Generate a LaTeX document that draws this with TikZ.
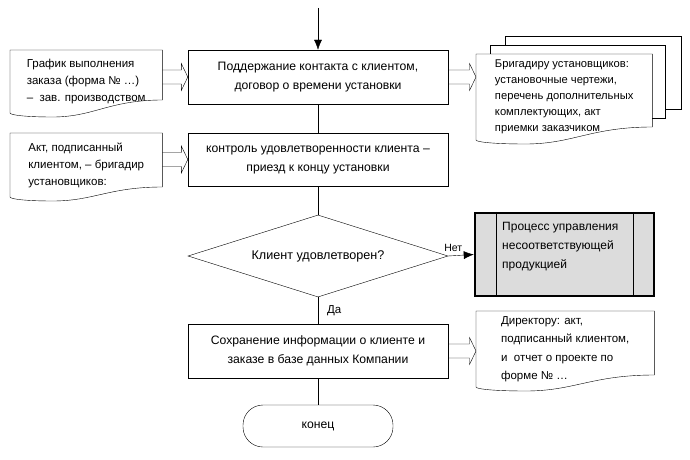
\documentclass[tikz,border=0pt]{standalone}
\usepackage{fontspec}
\setmainfont{Liberation Sans}
\usetikzlibrary{positioning, arrows.meta, calc, shapes.geometric}
\tikzset{>=latex}
\definecolor{procgray}{RGB}{220,220,220}

% document outline: node, right drop, left drop
\newcommand\docoutline[3]{%
  \draw (#1.north west) -- (#1.north east) -- ($(#1.north east)+(0,#2)$)
    .. controls ($(#1.north west)!0.65!(#1.north east)+(0,#2)$)
       and ($(#1.north west)!0.55!(#1.north east)+(0,#3+4)$)
    .. ($(#1.north west)!0.28!(#1.north east)+(0,#3+4)$)
    .. controls ($(#1.north west)!0.1!(#1.north east)+(0,#3+4)$)
       and ($(#1.north west)+(0,#3+2)$)
    .. ($(#1.north west)+(0,#3)$) -- cycle;}
% hollow arrow between two points on one level
\newcommand\fatarrow[2]{%
  \draw ($#1+(0,-7)$) -- ($#2+(-6.5,-7)$) -- ($#2+(-6.5,-13.5)$) -- #2
    -- ($#2+(-6.5,13.5)$) -- ($#2+(-6.5,7)$) -- ($#1+(0,7)$);}

\begin{document}
\begin{tikzpicture}[x=1pt,y=-1pt,
  every node/.style={font=\fontsize{11.5}{17}\selectfont},
  box/.style={draw,minimum width=260pt,inner sep=0pt,align=center,
    font=\fontsize{12.2}{17}\selectfont},
  docnode/.style={minimum width=#1,inner sep=0pt,align=left},
  flow/.style={-{Latex[length=10pt,width=8pt]}}]
\useasboundingbox (0,0) rectangle (690,460);

% main column
\node[box,minimum height=54pt] (contact) at (318,77)
  {Поддержание контакта с клиентом,\\[2pt] договор о времени установки};
\node[box,minimum height=53pt] (control) at (318,159.5)
  {контроль удовлетворенности клиента --\\[2pt] приезд к концу установки};
\node[draw,diamond,aspect=3.17,minimum width=260pt,minimum height=82pt,inner sep=0pt,
  font=\fontsize{12.6}{17}\selectfont] (check) at (318,256)
  {Клиент удовлетворен?};
\node[box,minimum height=54pt] (save) at (318,351)
  {Сохранение информации о клиенте и\\[2pt] заказе в базе данных Компании};
\node[draw,rounded corners=20pt,minimum width=150pt,minimum height=42pt,inner sep=0pt,
  font=\fontsize{12.2}{17}\selectfont] (finish) at (318,426)
  {\raisebox{-3pt}{конец}};

% process box
\node[draw,line width=2.5pt,fill=procgray,minimum width=179pt,minimum height=83pt,
  inner sep=0pt] (nonconf) at (564.5,254.5) {};
\node[anchor=north west,align=left,inner sep=0pt,
  font=\fontsize{12}{19}\selectfont] (nonconftxt) at (502,222)
  {Процесс управления\\несоответствующей\\продукцией};
\draw ($(nonconf.north west)+(22,0)$) -- ($(nonconf.south west)+(22,0)$);
\draw ($(nonconf.north east)+(-22,0)$) -- ($(nonconf.south east)+(-22,0)$);

% documents
\node[docnode=152pt,minimum height=63pt,anchor=north west] (schedule) at (10,50)
  {График выполнения\\заказа (форма № \dots)\\-- \ зав. производством};
\docoutline{schedule}{50}{63}
\node[docnode=152pt,minimum height=64pt,anchor=north west] (actin) at (10,133)
  {Акт, подписанный\\клиентом, -- бригадир\\установщиков:};
\docoutline{actin}{54}{64}
\draw (505,45) -- (505,36) -- (681,36) -- (681,109) -- (665,109);
\draw (490,54) -- (490,45) -- (665,45) -- (665,118) -- (652,118);
\node[docnode=176pt,minimum height=86pt,anchor=north west,
  font=\fontsize{11.2}{16}\selectfont] (crew) at (476,54)
  {Бригадиру установщиков:\\установочные чертежи,\\перечень дополнительных\\комплектующих, акт\\приемки заказчиком};
\docoutline{crew}{73}{86}
\node[docnode=178pt,minimum height=76pt,anchor=north west,
  font=\fontsize{11.5}{18.3}\selectfont] (director) at (476,311)
  {Директору: акт,\\подписанный клиентом,\\и \ отчет о проекте по\\форме № \dots};
\docoutline{director}{64}{76}

% connectors
\coordinate (top) at (318,8);
\draw[flow] (top) -- (contact.north);
\draw (contact) -- (control);
\draw (control) -- (check);
\draw[flow] (check.east) -- node[pos=0.2,above=4pt,inner sep=0pt,
  font=\fontsize{10.5}{12}\selectfont] {Нет} (nonconf.west);
\draw (check.south) -- node[right=9pt,inner sep=0pt] {Да} (save.north);
\draw (save) -- (finish);
\fatarrow{(schedule.east |- contact.west)}{(contact.west)}
\fatarrow{(actin.east |- control.west)}{(control.west)}
\fatarrow{(contact.east)}{(contact.east -| crew.west)}
\fatarrow{(save.east)}{(save.east -| director.west)}
\end{tikzpicture}
\end{document}
